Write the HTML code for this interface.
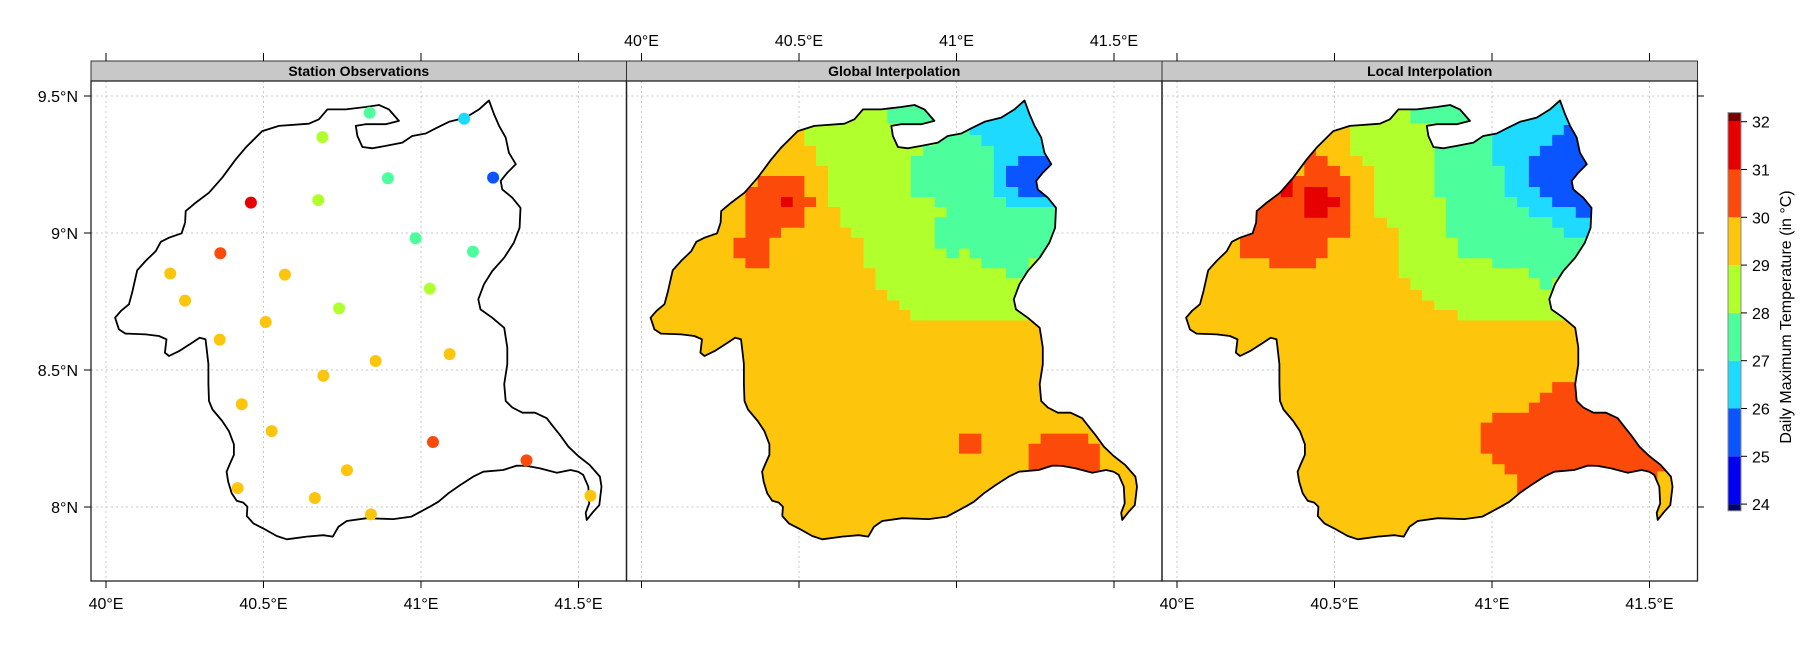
<!DOCTYPE html>
<html><head><meta charset="utf-8">
<style>
html,body{margin:0;padding:0;background:#fff;}
svg{display:block;font-family:"Liberation Sans",Arial,sans-serif;}
</style></head>
<body>
<svg id="chart" width="1800" height="650" viewBox="0 0 1800 650" xmlns="http://www.w3.org/2000/svg">
<defs id="defs"></defs>
<g id="root"></g>
</svg>
<script>
// ---- data ----
const panelTitles = ["Station Observations", "Global Interpolation", "Local Interpolation"];
const lonTicks = [40, 40.5, 41, 41.5];
const lonTickLabels = ["40°E", "40.5°E", "41°E", "41.5°E"];
const latTicks = [9.5, 9, 8.5, 8];
const latTickLabels = ["9.5°N", "9°N", "8.5°N", "8°N"];
const colorBreaks = [23.86, 24, 25, 26, 27, 28, 29, 30, 31, 32, 32.19];
const colorValues = ["#00006e", "#0000f0", "#0a55ff", "#1edaff", "#4cff9c", "#b2ff2e", "#fdc60c", "#fc4a0a", "#e60000", "#7a0000"];
const colorTicks = [24, 25, 26, 27, 28, 29, 30, 31, 32];

const stationLon = [40.837, 41.137, 40.687, 40.895, 41.229, 40.460, 40.674, 40.983, 41.165, 40.363, 40.204, 40.568, 41.028, 40.251, 40.740, 40.507, 40.361, 41.091, 40.856, 40.690, 40.431, 40.526, 41.038, 41.335, 40.765, 40.418, 40.663, 40.841, 41.538];
const stationLat = [9.439, 9.417, 9.350, 9.200, 9.202, 9.111, 9.120, 8.981, 8.932, 8.926, 8.852, 8.848, 8.797, 8.753, 8.725, 8.675, 8.611, 8.558, 8.533, 8.479, 8.375, 8.277, 8.237, 8.170, 8.134, 8.069, 8.033, 7.973, 8.041];
const stationTemp = [27.5, 26.5, 28.5, 27.5, 25.5, 31.3, 28.5, 27.5, 27.5, 30.5, 29.5, 29.5, 28.5, 29.5, 28.5, 29.5, 29.5, 29.5, 29.5, 29.5, 29.5, 29.5, 30.5, 30.5, 29.5, 29.5, 29.5, 29.5, 29.5];

const outline = [[40.029,8.691],[40.047,8.715],[40.073,8.740],[40.084,8.788],[40.099,8.864],[40.126,8.898],[40.158,8.934],[40.174,8.968],[40.200,8.983],[40.240,8.999],[40.251,9.038],[40.253,9.080],[40.285,9.111],[40.327,9.147],[40.369,9.202],[40.412,9.269],[40.443,9.311],[40.496,9.372],[40.549,9.391],[40.644,9.399],[40.676,9.415],[40.703,9.451],[40.761,9.451],[40.824,9.460],[40.867,9.467],[40.898,9.451],[40.930,9.409],[40.888,9.397],[40.824,9.397],[40.793,9.391],[40.798,9.354],[40.814,9.314],[40.846,9.309],[40.888,9.318],[40.941,9.330],[40.972,9.354],[41.015,9.363],[41.047,9.382],[41.089,9.406],[41.142,9.421],[41.184,9.451],[41.216,9.484],[41.232,9.433],[41.248,9.391],[41.269,9.348],[41.279,9.293],[41.301,9.251],[41.274,9.220],[41.253,9.190],[41.258,9.159],[41.290,9.129],[41.316,9.092],[41.313,9.019],[41.295,8.965],[41.264,8.910],[41.226,8.861],[41.200,8.813],[41.182,8.758],[41.189,8.721],[41.226,8.691],[41.264,8.654],[41.274,8.582],[41.274,8.521],[41.264,8.448],[41.269,8.387],[41.290,8.363],[41.322,8.344],[41.362,8.344],[41.399,8.324],[41.420,8.293],[41.441,8.263],[41.468,8.220],[41.499,8.186],[41.536,8.153],[41.568,8.111],[41.573,8.074],[41.566,8.007],[41.547,7.983],[41.526,7.953],[41.523,7.979],[41.534,8.013],[41.531,8.074],[41.515,8.117],[41.499,8.129],[41.475,8.135],[41.431,8.125],[41.378,8.141],[41.335,8.150],[41.304,8.151],[41.261,8.135],[41.198,8.129],[41.166,8.111],[41.124,8.080],[41.087,8.050],[41.055,8.019],[41.028,8.001],[40.970,7.965],[40.912,7.956],[40.828,7.959],[40.764,7.949],[40.738,7.928],[40.720,7.892],[40.690,7.897],[40.637,7.892],[40.574,7.882],[40.542,7.894],[40.499,7.922],[40.468,7.940],[40.447,7.967],[40.449,8.001],[40.436,8.016],[40.415,8.023],[40.399,8.050],[40.388,8.092],[40.383,8.129],[40.394,8.159],[40.406,8.190],[40.406,8.229],[40.390,8.277],[40.369,8.314],[40.338,8.356],[40.327,8.387],[40.325,8.448],[40.325,8.521],[40.319,8.582],[40.316,8.612],[40.297,8.618],[40.274,8.600],[40.232,8.569],[40.200,8.551],[40.187,8.563],[40.192,8.612],[40.168,8.624],[40.126,8.630],[40.062,8.633],[40.041,8.648]];

const globalZones = [
 [29.5, [[39.9,9.7],[41.7,9.7],[41.7,7.8],[39.9,7.8]]],
 [28.5, [[40.480,9.7],[40.480,9.385],[40.517,9.385],[40.517,9.318],[40.554,9.318],[40.554,9.245],[40.592,9.245],[40.592,9.095],[40.631,9.095],[40.631,9.019],[40.666,9.019],[40.666,8.983],[40.705,8.983],[40.705,8.871],[40.743,8.871],[40.743,8.792],[40.780,8.792],[40.780,8.754],[40.819,8.754],[40.819,8.719],[40.854,8.719],[40.854,8.681],[41.7,8.681],[41.7,9.7]]],
 [27.5, [[40.780,9.7],[40.780,9.40],[40.931,9.40],[40.931,9.318],[40.894,9.318],[40.894,9.281],[40.855,9.281],[40.855,9.131],[40.931,9.131],[40.931,9.095],[40.968,9.095],[40.968,9.058],[40.931,9.058],[40.931,8.943],[40.968,8.943],[40.968,8.908],[41.008,8.908],[41.008,8.943],[41.042,8.943],[41.042,8.908],[41.079,8.908],[41.079,8.871],[41.157,8.871],[41.157,8.835],[41.229,8.835],[41.229,8.908],[41.7,8.908],[41.7,9.7]]],
 [26.5, [[41.042,9.7],[41.042,9.358],[41.079,9.358],[41.079,9.318],[41.118,9.318],[41.118,9.131],[41.157,9.131],[41.157,9.095],[41.7,9.095],[41.7,9.7]]],
 [25.5, [[41.196,9.281],[41.4,9.281],[41.4,9.131],[41.196,9.131],[41.196,9.168],[41.157,9.168],[41.157,9.245],[41.196,9.245]]],
 [30.5, [[40.369,9.208],[40.517,9.208],[40.517,9.131],[40.554,9.131],[40.554,9.095],[40.517,9.095],[40.517,9.019],[40.443,9.019],[40.443,8.983],[40.406,8.983],[40.406,8.871],[40.330,8.871],[40.330,8.908],[40.292,8.908],[40.292,8.983],[40.330,8.983],[40.330,9.168],[40.369,9.168]]],
 [31.5, [[40.443,9.131],[40.480,9.131],[40.480,9.095],[40.443,9.095]]],
 [30.5, [[41.008,8.268],[41.079,8.268],[41.079,8.195],[41.008,8.195]]],
 [30.5, [[41.229,8.231],[41.267,8.231],[41.267,8.268],[41.418,8.268],[41.418,8.231],[41.455,8.231],[41.455,8.10],[41.229,8.10]]]
];
const localZones = [
 [29.5, [[39.9,9.7],[41.7,9.7],[41.7,7.8],[39.9,7.8]]],
 [28.5, [[40.550,9.7],[40.550,9.281],[40.589,9.281],[40.589,9.245],[40.626,9.245],[40.626,9.056],[40.667,9.056],[40.667,9.019],[40.704,9.019],[40.704,8.835],[40.741,8.835],[40.741,8.792],[40.778,8.792],[40.778,8.754],[40.817,8.754],[40.817,8.719],[40.891,8.719],[40.891,8.681],[41.7,8.681],[41.7,9.7]]],
 [27.5, [[40.741,9.7],[40.741,9.40],[40.817,9.40],[40.817,9.131],[40.854,9.131],[40.854,8.983],[40.892,8.983],[40.892,8.908],[41.001,8.908],[41.001,8.871],[41.117,8.871],[41.117,8.835],[41.152,8.835],[41.152,8.794],[41.191,8.794],[41.191,8.835],[41.7,8.835],[41.7,9.7]]],
 [26.5, [[41.001,9.7],[41.001,9.245],[41.040,9.245],[41.040,9.131],[41.080,9.131],[41.080,9.095],[41.117,9.095],[41.117,9.058],[41.191,9.058],[41.191,9.019],[41.228,9.019],[41.228,8.983],[41.7,8.983],[41.7,9.7]]],
 [25.5, [[41.228,9.394],[41.4,9.394],[41.4,9.056],[41.266,9.056],[41.266,9.095],[41.191,9.095],[41.191,9.131],[41.152,9.131],[41.152,9.168],[41.117,9.168],[41.117,9.281],[41.152,9.281],[41.152,9.318],[41.191,9.318],[41.191,9.358],[41.228,9.358]]],
 [30.5, [[40.404,9.318],[40.441,9.318],[40.441,9.281],[40.478,9.281],[40.478,9.245],[40.517,9.245],[40.517,9.208],[40.550,9.208],[40.550,8.983],[40.478,8.983],[40.478,8.908],[40.441,8.908],[40.441,8.871],[40.293,8.871],[40.293,8.908],[40.20,8.908],[40.20,9.208],[40.404,9.208]]],
 [31.5, [[40.330,9.208],[40.367,9.208],[40.367,9.131],[40.330,9.131]]],
 [31.5, [[40.404,9.168],[40.478,9.168],[40.478,9.131],[40.517,9.131],[40.517,9.095],[40.478,9.095],[40.478,9.056],[40.404,9.056]]],
 [30.5, [[41.191,8.456],[41.7,8.456],[41.7,8.13],[41.525,8.13],[41.525,8.0],[41.080,8.0],[41.080,8.119],[41.040,8.119],[41.040,8.156],[41.001,8.156],[41.001,8.195],[40.964,8.195],[40.964,8.308],[41.001,8.308],[41.001,8.344],[41.117,8.344],[41.117,8.381],[41.152,8.381],[41.152,8.417],[41.191,8.417]]]
];

// ---- layout ----
const NS = "http://www.w3.org/2000/svg";
const rootG = document.getElementById("root");
const defsEl = document.getElementById("defs");
const panelLeft = [91, 626.5, 1162];
const panelW = 535.5, plotTop = 81, plotBottom = 581;
function xOf(p, lon){ return panelLeft[p] + 15 + (lon - 40) * 315; }
function yOf(lat){ return 96 + (9.5 - lat) * 274; }
function colorOf(v){
  for (let i = 0; i < colorValues.length; i++) if (v < colorBreaks[i+1]) return colorValues[i];
  return colorValues[colorValues.length-1];
}
function el(tag, attrs, parent){
  const e = document.createElementNS(NS, tag);
  for (const k in attrs) e.setAttribute(k, attrs[k]);
  (parent || rootG).appendChild(e);
  return e;
}
function polyPts(p, pts){ return pts.map(q => xOf(p,q[0]).toFixed(1) + "," + yOf(q[1]).toFixed(1)).join(" "); }

for (let p = 0; p < 3; p++) {
  const L = panelLeft[p];
  const g = el("g", {});
  
  
  const cp = el("clipPath", {id: "pc" + p}, defsEl);
  el("rect", {x: L, y: plotTop, width: panelW, height: plotBottom - plotTop}, cp);
  const oc = el("clipPath", {id: "oc" + p}, defsEl);
  el("polygon", {points: polyPts(p, outline)}, oc);

  lonTicks.forEach(t => {
    const ln = el("line", {x1: xOf(p,t), x2: xOf(p,t), y1: plotTop, y2: plotBottom, stroke: "#c8c8c8", "stroke-width": 1, "stroke-dasharray": "2,3"}, g);
    
    
  });
  latTicks.forEach(t => {
    const ln = el("line", {x1: L, x2: L + panelW, y1: yOf(t), y2: yOf(t), stroke: "#c8c8c8", "stroke-width": 1, "stroke-dasharray": "2,3"}, g);
    
    
  });

  if (p > 0) {
    const zones = p === 1 ? globalZones : localZones;
    const zg = el("g", {"clip-path": "url(#oc" + p + ")"}, g);
    
    
    zones.forEach(z => {
      const pg = el("polygon", {points: polyPts(p, z[1]), fill: colorOf(z[0])}, zg);
      
      
    });
  }
  const ol = el("polygon", {points: polyPts(p, outline), fill: "none", stroke: "#000", "stroke-width": 1.8, "stroke-linejoin": "round", "clip-path": "url(#pc" + p + ")"}, g);
  
  

  if (p === 0) {
    stationLon.forEach((lon, i) => {
      const c = el("circle", {cx: xOf(0, lon), cy: yOf(stationLat[i]), r: 6, fill: colorOf(stationTemp[i])}, g);
      
      
    });
  }

  const st = el("rect", {x: L, y: 61, width: panelW, height: 20, fill: "#c8c8c8", stroke: "#333", "stroke-width": 1}, g);
  
  
  const tt = el("text", {x: L + panelW / 2, y: 76, "text-anchor": "middle", "font-size": 14, "font-weight": "bold", fill: "#000"}, g);
  tt.textContent = panelTitles[p];
  
  

  const bd = el("rect", {x: L, y: plotTop, width: panelW, height: plotBottom - plotTop, fill: "none", stroke: "#222", "stroke-width": 1.3}, g);
  
  

  lonTicks.forEach((t, i) => {
    const x = xOf(p, t);
    el("line", {x1: x, x2: x, y1: 53, y2: 61, stroke: "#000", "stroke-width": 1}, g);
    el("line", {x1: x, x2: x, y1: plotBottom, y2: plotBottom + 7, stroke: "#000", "stroke-width": 1}, g);
    if (p === 1) {
      const tl = el("text", {x: x, y: 46, "text-anchor": "middle", "font-size": 16, fill: "#000"}, g);
      tl.textContent = lonTickLabels[i];
      
      
    } else {
      const tl = el("text", {x: x, y: 609, "text-anchor": "middle", "font-size": 16, fill: "#000"}, g);
      tl.textContent = lonTickLabels[i];
      
      
    }
  });
}
latTicks.forEach((t, i) => {
  const y = yOf(t);
  el("line", {x1: 84, x2: 91, y1: y, y2: y, stroke: "#000", "stroke-width": 1});
  el("line", {x1: 1697, x2: 1704, y1: y, y2: y, stroke: "#000", "stroke-width": 1});
  const tl = el("text", {x: 78, y: y + 6, "text-anchor": "end", "font-size": 16, fill: "#000"});
  tl.textContent = latTickLabels[i];
  
  
});

const cbx = 1728, cbw = 13;
function yCb(v){ return 121.7 + (32 - v) * 47.8; }
const cb = el("g", {});


colorValues.forEach((c, i) => {
  const y1 = yCb(colorBreaks[i+1]), y2 = yCb(colorBreaks[i]);
  const r = el("rect", {x: cbx, y: y1, width: cbw, height: y2 - y1, fill: c}, cb);
  
  
});
el("rect", {x: cbx, y: yCb(colorBreaks[colorBreaks.length-1]), width: cbw, height: yCb(colorBreaks[0]) - yCb(colorBreaks[colorBreaks.length-1]), fill: "none", stroke: "#888", "stroke-width": 1}, cb);
colorTicks.forEach(v => {
  const y = yCb(v);
  el("line", {x1: cbx + cbw, x2: cbx + cbw + 6, y1: y, y2: y, stroke: "#000", "stroke-width": 1}, cb);
  const tl = el("text", {x: 1752, y: y + 6, "font-size": 16, fill: "#000"}, cb);
  tl.textContent = String(v);
  
  
});
const ct = el("text", {x: 0, y: 0, "font-size": 16, "text-anchor": "middle", fill: "#000", transform: "translate(1791,317) rotate(-90)"});
ct.textContent = "Daily Maximum Temperature (in °C)";


</script>
</body></html>
